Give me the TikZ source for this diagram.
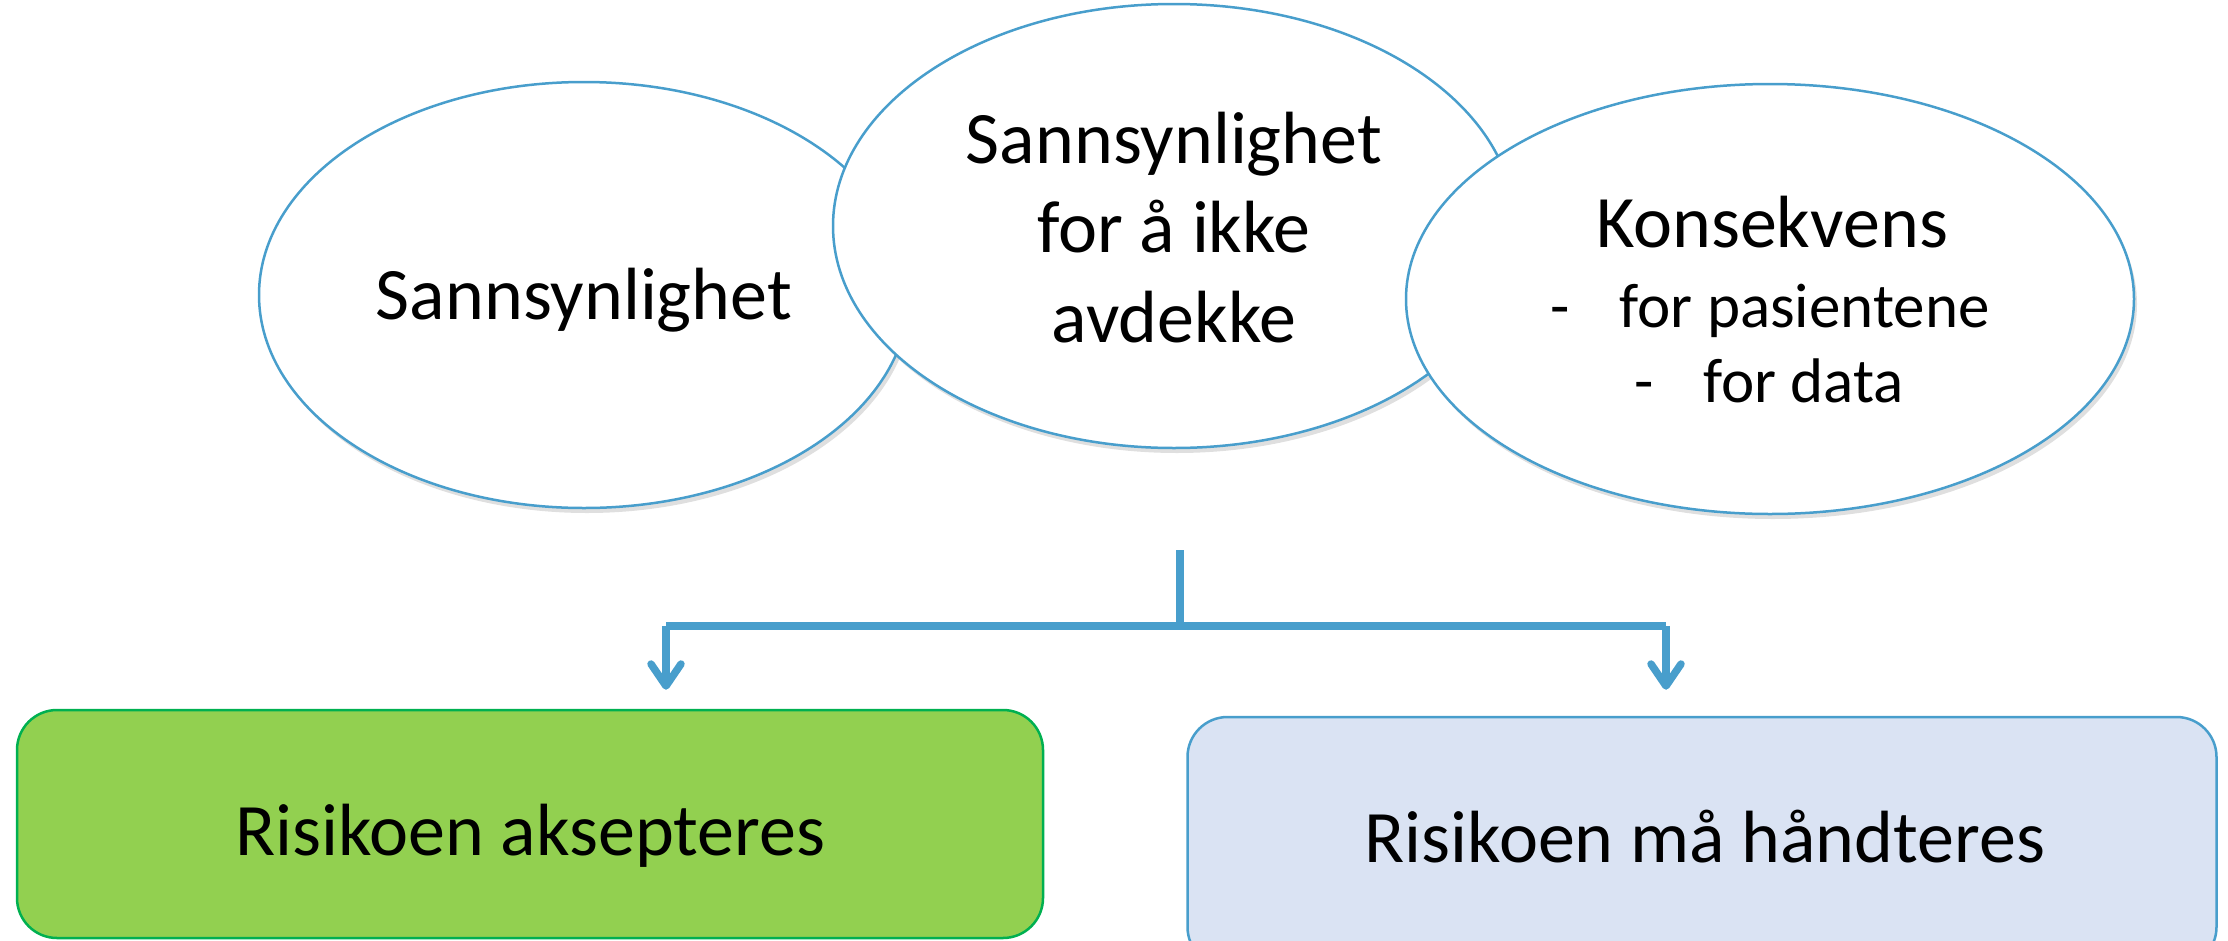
\documentclass[tikz,border=0pt]{standalone}
\usepackage{fontspec}
\setmainfont{Carlito}
\usetikzlibrary{shapes.geometric,arrows.meta,shadows}
\definecolor{lineblue}{RGB}{72,158,204}
\definecolor{boxgreen}{RGB}{146,208,80}
\definecolor{greenedge}{RGB}{0,176,80}
\definecolor{boxblue}{RGB}{218,227,243}
\tikzset{
 bubble/.style={ellipse, draw=lineblue, line width=2.5pt, fill=white, inner sep=0pt,
   drop shadow={shadow xshift=3pt, shadow yshift=-5pt, opacity=0.25}},
 outcome/.style={rectangle, rounded corners=40pt, line width=2.5pt, inner sep=0pt},
 bigtext/.style={inner sep=0pt, anchor=base, font=\fontsize{74}{89}\selectfont},
 smalltext/.style={inner sep=0pt, anchor=base, font=\fontsize{63}{76}\selectfont},
 link/.style={draw=lineblue, line width=7.5pt},
 arrowlink/.style={link, -{Straight Barb[length=22pt,width=30pt,round]}}
}
\begin{document}
\begin{tikzpicture}[x=1pt,y=-1pt]
\useasboundingbox (0,0) rectangle (2228,940);
% ellipses
\node[bubble, minimum width=650, minimum height=426] (p) at (584,295) {};
\node[bigtext] (ptext) at (584,319) {Sannsynlighet};
\node[bubble, minimum width=682, minimum height=444] (d) at (1174,226) {};
\node[bigtext] (d1) at (1174,163) {Sannsynlighet};
\node[bigtext] (d2) at (1174,252) {for å ikke};
\node[bigtext] (d3) at (1174,342) {avdekke};
\node[bubble, minimum width=728, minimum height=430] (k) at (1770,299) {};
\node[bigtext] (k1) at (1772,247) {Konsekvens};
\node[smalltext] (k2) at (1770,327) {-\hspace{50pt}for pasientene};
\node[smalltext] (k3) at (1769,402) {-\hspace{50pt}for data};
% outcome boxes
\node[outcome, fill=boxgreen, draw=greenedge, minimum width=1026, minimum height=228] (acc) at (530,824) {};
\node[bigtext] (acctext) at (530,855) {Risikoen aksepteres};
\node[outcome, fill=boxblue, draw=lineblue, minimum width=1029, minimum height=250] (rej) at (1702,842) {};
\node[bigtext] (rejtext) at (1705,862) {Risikoen må håndteres};
% connectors
\coordinate (stem) at (1180,550);
\coordinate (split) at (1180,626);
\coordinate (jl) at (666,626);
\coordinate (jr) at (1666,626);
\draw[link] (stem) -- (split);
\draw[link] (jl) -- (jr);
\draw[arrowlink, shorten >=19pt] (jl) -- (jl |- acc.north);
\draw[arrowlink, shorten >=26pt] (jr) -- (jr |- rej.north);
\end{tikzpicture}
\end{document}
